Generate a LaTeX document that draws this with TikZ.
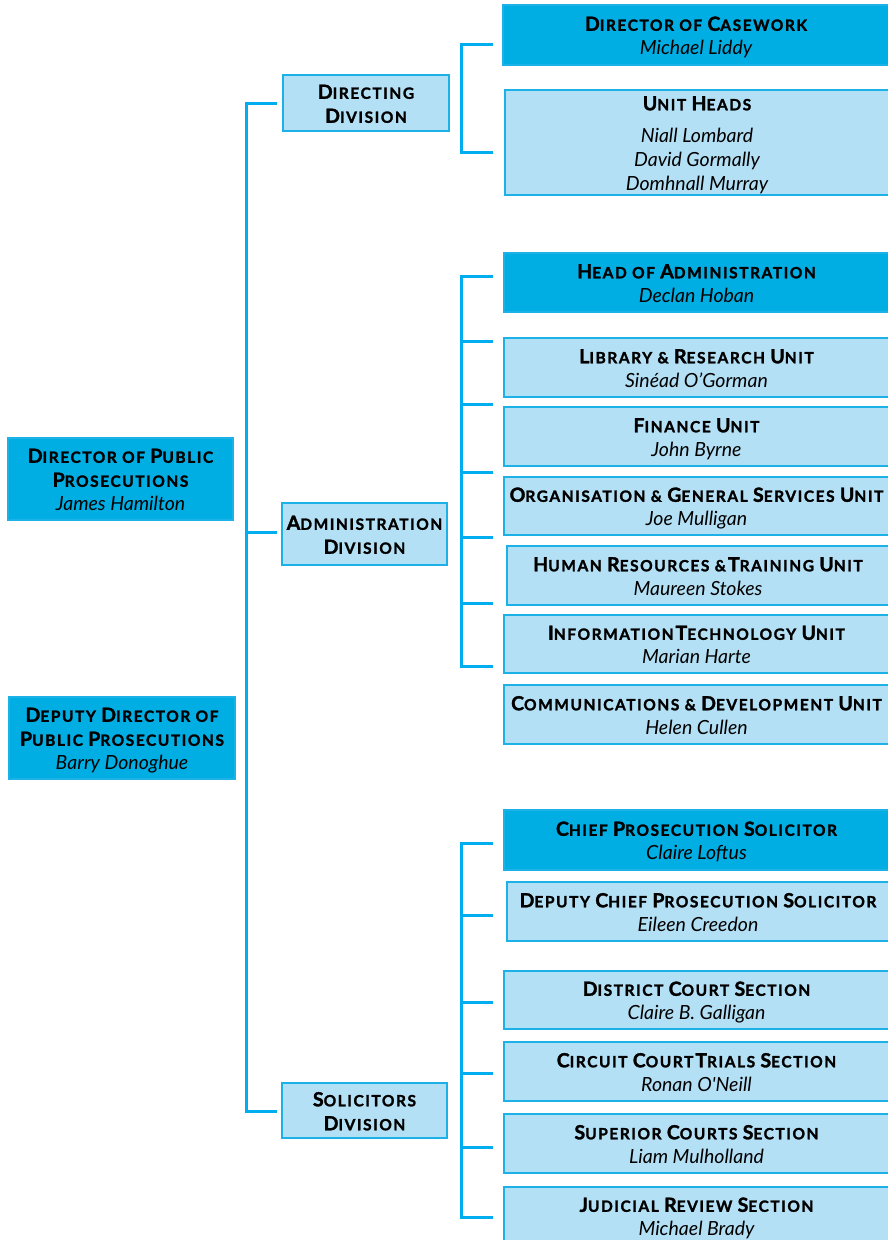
\documentclass[tikz,border=0pt]{standalone}
\usepackage{fontspec}
\setmainfont{Lato}
\newfontfamily\tf{Lato}[LetterSpace=10, BoldFeatures={FakeBold=1.6}]
\definecolor{darkc}{RGB}{0,174,228}
\definecolor{lightc}{RGB}{180,224,245}
\definecolor{bordc}{RGB}{28,178,232}
\definecolor{connc}{RGB}{0,174,239}
\newcommand\tl[1]{{\tf\bfseries\fontsize{15.5}{24}\selectfont\strut #1}}
\newcommand\B[1]{{\fontsize{19.5}{24}\selectfont #1}}
\newcommand\nm[1]{{\itshape\fontsize{19.5}{24}\selectfont\strut #1}}
\newcommand\ts{\hspace{2pt}}
\tikzset{
  boxbase/.style={draw=bordc, line width=1.5pt, inner sep=0pt},
  darkbox/.style={boxbase, fill=darkc},
  lightbox/.style={boxbase, fill=lightc},
  tx/.style={align=center, inner sep=0pt, yshift=-3pt, font=\fontsize{15.5}{24}\selectfont},
  conn/.style={draw=connc, line width=3pt, line join=miter, line cap=rect}
}
\begin{document}
\begin{tikzpicture}[x=1pt,y=-1pt]
\clip (0,0) rectangle (888,1240);
\fill[white] (0,0) rectangle (888,1240);
% left boxes
\node[darkbox, minimum width=225, minimum height=82, label={[tx]center:{\tl{\B{D}IRECTOR OF \B{P}UBLIC}\\\tl{\B{P}ROSECUTIONS}\\\nm{James Hamilton}}}] (dpp) at (120.5,479) {};
\node[darkbox, minimum width=226, minimum height=82, label={[tx]center:{\tl{\B{D}EPUTY \B{D}IRECTOR OF}\\\tl{\B{P}UBLIC \B{P}ROSECUTIONS}\\\nm{Barry Donoghue}}}] (ddpp) at (122,738) {};
% divisions
\node[lightbox, minimum width=166, minimum height=56, label={[tx]center:{\tl{\B{D}IRECTING}\\\tl{\B{D}IVISION}}}] (dd) at (366,103) {};
\node[lightbox, minimum width=165, minimum height=62, label={[tx]center:{\tl{\B{A}DMINISTRATION}\\\tl{\B{D}IVISION}}}] (ad) at (364.5,534) {};
\node[lightbox, minimum width=165, minimum height=55, label={[tx]center:{\tl{\B{S}OLICITORS}\\\tl{\B{D}IVISION}}}] (sd) at (364.5,1110.5) {};
% directing
\node[darkbox, minimum width=386, minimum height=60, label={[tx]center:{\tl{\B{D}IRECTOR OF \B{C}ASEWORK}\\\nm{Michael Liddy}}}] (cw) at (696,35) {};
\node[lightbox, minimum width=384, minimum height=105, label={[tx]center:{\tl{\B{U}NIT \B{H}EADS}\\[8pt]\nm{Niall Lombard}\\\nm{David Gormally}\\\nm{Domhnall Murray}}}] (uh) at (697,142.5) {};
% administration
\node[darkbox, minimum width=385, minimum height=59, label={[tx]center:{\tl{\B{H}EAD OF \B{A}DMINISTRATION}\\\nm{Declan Hoban}}}] (ha) at (696.5,282.5) {};
\node[lightbox, minimum width=385, minimum height=59, label={[tx]center:{\tl{\B{L}IBRARY \& \B{R}ESEARCH \B{U}NIT}\\\nm{Sinéad O’Gorman}}}] (lr) at (696.5,367.5) {};
\node[lightbox, minimum width=385, minimum height=59, label={[tx]center:{\tl{\B{F}INANCE \B{U}NIT}\\\nm{John Byrne}}}] (fu) at (696.5,436.5) {};
\node[lightbox, minimum width=385, minimum height=58, label={[tx]center:{\tl{\B{O}RGANISATION \& \B{G}ENERAL \B{S}ERVICES \B{U}NIT}\\\nm{Joe Mulligan}}}] (og) at (696.5,506) {};
\node[lightbox, minimum width=382, minimum height=59, label={[tx]center:{\tl{\B{H}UMAN \B{R}ESOURCES \&\ts\B{T}RAINING \B{U}NIT}\\\nm{Maureen Stokes}}}] (hr) at (698,575.5) {};
\node[lightbox, minimum width=385, minimum height=58, label={[tx]center:{\tl{\B{I}NFORMATION\ts\B{T}ECHNOLOGY \B{U}NIT}\\\nm{Marian Harte}}}] (it) at (696.5,644) {};
\node[lightbox, minimum width=385, minimum height=59, label={[tx]center:{\tl{\B{C}OMMUNICATIONS \& \B{D}EVELOPMENT \B{U}NIT}\\\nm{Helen Cullen}}}] (cd) at (696.5,714.5) {};
% solicitors
\node[darkbox, minimum width=385, minimum height=60, label={[tx]center:{\tl{\B{C}HIEF \B{P}ROSECUTION \B{S}OLICITOR}\\\nm{Claire Loftus}}}] (cp) at (696.5,840) {};
\node[lightbox, minimum width=382, minimum height=59, label={[tx]center:{\tl{\B{D}EPUTY \B{C}HIEF \B{P}ROSECUTION \B{S}OLICITOR}\\\nm{Eileen Creedon}}}] (dc) at (698,911.5) {};
\node[lightbox, minimum width=385, minimum height=58, label={[tx]center:{\tl{\B{D}ISTRICT \B{C}OURT \B{S}ECTION}\\\nm{Claire B. Galligan}}}] (dt) at (696.5,1000) {};
\node[lightbox, minimum width=385, minimum height=59, label={[tx]center:{\tl{\B{C}IRCUIT \B{C}OURT\ts\B{T}RIALS \B{S}ECTION}\\\nm{Ronan O\textquotesingle Neill}}}] (cc) at (696.5,1071.5) {};
\node[lightbox, minimum width=385, minimum height=59, label={[tx]center:{\tl{\B{S}UPERIOR \B{C}OURTS \B{S}ECTION}\\\nm{Liam Mulholland}}}] (sc) at (696.5,1143.5) {};
\node[lightbox, minimum width=385, minimum height=58, label={[tx]center:{\tl{\B{J}UDICIAL \B{R}EVIEW \B{S}ECTION}\\\nm{Michael Brady}}}] (jr) at (696.5,1216) {};
% main spine
\coordinate (m1) at (275,103);
\coordinate (m2) at (275,532);
\coordinate (m3) at (275,1111);
\draw[conn] (m1) -- (246,103) -- (246,1111) -- (m3);
\draw[conn] (246,532) -- (m2);
% directing bracket
\coordinate (d1) at (491,44);
\coordinate (d2) at (491,152);
\draw[conn] (d1) -- (461,44) -- (461,152) -- (d2);
% administration bracket
\coordinate (a1) at (491,276);
\coordinate (a7) at (491,666);
\draw[conn] (a1) -- (461,276) -- (461,666) -- (a7);
\foreach \y in {341,404,472,537,603} \draw[conn] (461,\y) -- (491,\y);
% solicitors bracket
\coordinate (s1) at (491,843);
\coordinate (s6) at (491,1217);
\draw[conn] (s1) -- (461,843) -- (461,1217) -- (s6);
\foreach \y in {915,1002,1073,1147} \draw[conn] (461,\y) -- (491,\y);
\end{tikzpicture}
\end{document}
